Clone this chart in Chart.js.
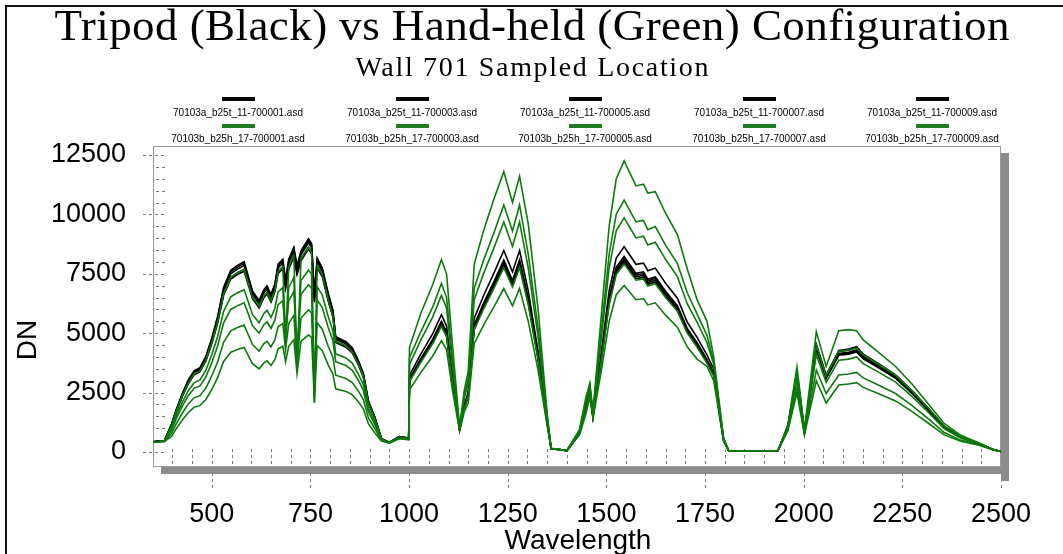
<!DOCTYPE html>
<html>
<head>
<meta charset="utf-8">
<script src="https://cdn.jsdelivr.net/npm/chart.js@4.4.1/dist/chart.umd.min.js"></script>
<style>
  html, body { margin: 0; padding: 0; background: #ffffff; }
  canvas { display: block; }
</style>
</head>
<body>
<canvas id="spectra" width="1063" height="554"></canvas>
<script>
// Wavelength samples (nm) shared by every spectrum
const wavelength = [350,380,398,410,425,440,455,470,485,500,515,530,548,565,582,590,603,620,632,640,650,660,668,680,687,695,708,716,726,745,753,760,767,780,795,807,814,840,856,872,884,897,913,930,950,975,999,
  1001,1030,1060,1082,1095,1110,1128,1140,1150,1165,1190,1215,1240,1262,1280,1302,1327,1350,1360,1400,1432,1448,1458,1466,1490,1507,1525,1545,1575,1594,1605,1624,1650,1680,1705,1730,1755,1772,1797,1810,1935,
  1960,1983,2002,2032,2057,2089,2114,2134,2151,2193,2233,2275,2317,2356,2398,2441,2480,2500];

// Tripod spectra (DN)
const tripod1 = [430,470,1150,1750,2400,2950,3350,3480,3950,4700,5600,6800,7500,7700,7850,7400,6650,6250,6700,6850,6500,6950,7750,7950,7100,7950,8450,7700,8300,8800,8600,6500,8000,7600,6550,5850,4750,4550,4300,3750,3250,2100,1450,550,400,640,580,
  3050,3900,4700,5450,5000,3000,950,1900,2400,5300,6250,7100,8000,7150,8000,6400,4000,1250,150,60,800,1800,2550,1500,4300,6400,7700,8150,7450,7500,7200,7300,6700,6100,5150,4550,3850,3300,500,50,60,
  1050,3250,850,4400,3150,4150,4200,4300,4000,3580,3160,2500,1770,1050,630,380,100,20];
const tripod2 = [440,480,1170,1790,2450,3010,3420,3550,4030,4790,5710,6940,7650,7850,8010,7550,6780,6380,6830,6990,6630,7090,7910,8110,7240,8110,8620,7850,8470,8980,8770,6630,8160,7750,6680,5970,4850,4640,4390,3830,3320,2140,1480,560,410,650,590,
  3230,4130,4980,5780,5300,3180,1000,2010,2540,5620,6630,7530,8480,7580,8480,6780,4240,1330,160,60,850,1910,2700,1590,4560,6780,8160,8640,7900,7950,7630,7740,7100,6470,5460,4820,4080,3500,530,50,60,
  1070,3320,870,4490,3210,4230,4280,4390,4080,3650,3220,2550,1810,1070,640,390,100,20];
const tripod3 = [420,460,1130,1720,2350,2890,3280,3410,3870,4610,5490,6660,7350,7550,7690,7250,6520,6130,6570,6710,6370,6810,7600,7790,6960,7790,8280,7550,8130,8620,8430,6370,7840,7450,6420,5730,4660,4460,4210,3680,3190,2060,1420,540,390,630,570,
  2990,3820,4610,5340,4900,2940,930,1860,2350,5190,6130,6960,7840,7010,7840,6270,3920,1230,150,60,780,1760,2500,1470,4210,6270,7550,7990,7300,7350,7060,7150,6570,5980,5050,4460,3770,3230,490,50,60,
  1030,3190,830,4310,3090,4070,4120,4210,3920,3510,3100,2450,1730,1030,620,370,100,20];
const tripod4 = [430,470,1160,1770,2420,2980,3380,3510,3990,4750,5660,6870,7580,7780,7930,7470,6720,6310,6770,6920,6570,7020,7830,8030,7170,8030,8530,7780,8380,8890,8690,6570,8080,7680,6620,5910,4800,4600,4340,3790,3280,2120,1460,560,400,650,590,
  3020,3860,4650,5400,4950,2970,940,1880,2380,5250,6190,7030,7920,7080,7920,6340,3960,1240,150,60,790,1780,2520,1490,4260,6340,7620,8070,7380,7430,7130,7230,6630,6040,5100,4500,3810,3270,500,50,60,
  1080,3350,880,4530,3240,4270,4330,4430,4120,3690,3250,2580,1820,1080,650,390,100,20];
const tripod5 = [420,460,1120,1700,2330,2860,3250,3380,3830,4560,5430,6600,7280,7470,7610,7180,6450,6060,6500,6640,6310,6740,7520,7710,6890,7710,8200,7470,8050,8540,8340,6310,7760,7370,6350,5670,4610,4410,4170,3640,3150,2040,1410,530,390,620,560,
  3080,3940,4750,5500,5050,3030,960,1920,2420,5350,6310,7170,8080,7220,8080,6460,4040,1260,150,60,810,1820,2580,1520,4340,6460,7780,8230,7520,7580,7270,7370,6770,6160,5200,4600,3890,3330,510,50,60,
  1040,3220,840,4360,3120,4110,4160,4260,3960,3540,3130,2480,1750,1040,620,380,100,20];

// Hand-held spectra (DN)
const handheld1 = [420,460,1130,1720,2350,2890,3280,3410,3870,4610,5490,6660,7350,7550,7690,7250,6520,6130,6570,6710,6370,6810,7600,7790,4720,7790,8280,3540,8130,8620,8430,2060,7840,7450,6420,5730,4660,4460,4210,3680,3190,2060,1420,540,390,630,570,
  4400,5850,7050,8100,7500,4500,1050,2600,3400,7900,9380,10650,11800,10500,11600,9600,6000,1600,150,60,950,2300,2900,1700,6300,9500,11500,12250,11200,11270,10900,10960,10050,9150,7700,6400,5500,4000,600,50,60,
  1150,3580,950,5060,3600,5100,5150,5100,4720,4150,3600,2850,2000,1200,700,400,110,20];
const handheld2 = [420,450,1000,1520,2090,2570,2910,3030,3440,4090,4870,5920,6530,6700,6830,6440,5790,5440,5830,5960,5660,6050,6740,6920,4500,6920,7350,3800,7220,7660,7480,2300,6960,6610,5700,5090,4130,3960,3740,3260,2830,1830,1260,520,390,600,550,
  3970,5070,6110,7090,6500,3900,1020,2400,3100,6890,8130,9230,10400,9300,10400,8320,5200,1500,150,60,900,2150,2800,1650,5590,8320,10010,10600,9690,9750,9360,9490,8710,7930,6700,5800,4900,3800,560,50,60,
  1070,3300,860,4480,3200,4240,4290,4380,4090,3660,3230,2560,1820,1080,650,390,100,20];
const handheld3 = [420,450,920,1400,1920,2360,2680,2780,3160,3760,4480,5440,6000,6160,6280,5920,5320,5000,5360,5480,5200,5560,6200,6360,4900,6360,6760,4200,6640,7040,6880,2600,6400,6080,5240,4680,3800,3640,3440,3000,2600,1680,1160,510,390,590,540,
  3690,4720,5690,6590,6050,3630,1000,2300,2900,6410,7560,8590,9680,8650,9680,7740,4840,1450,150,60,880,2050,2750,1620,5200,7740,9320,9860,9010,9080,8710,8830,8110,7380,6230,5460,4600,3700,540,50,60,
  1000,3050,800,4100,2930,3860,3910,4000,3720,3330,2940,2330,1650,980,590,360,90,20];
const handheld4 = [410,440,780,1190,1630,2010,2280,2370,2690,3200,3810,4620,5100,5240,5340,5030,4520,4250,4560,4660,4420,4730,5270,5410,4300,5410,5750,3700,5640,5980,5850,2500,5440,5170,4450,3980,3230,3090,2920,2550,2210,1430,990,490,380,580,530,
  2960,3780,4560,5290,4850,2910,920,1840,2330,5140,6060,6890,7760,6940,7760,6210,3880,1210,150,60,780,1750,2470,1460,4170,6210,7470,7910,7230,7280,6980,7080,6500,5920,5000,4410,3730,3200,480,50,60,
  950,2700,760,3450,2460,3240,3280,3350,3120,2790,2460,1950,1380,820,500,330,90,20];
const handheld5 = [410,440,650,980,1340,1650,1880,1950,2210,2630,3140,3810,4200,4310,4400,4140,3720,3500,3750,3840,3640,3890,4340,4450,3800,4450,4730,3300,4650,4930,4820,2100,4480,4260,3670,3280,2660,2550,2410,2100,1820,1180,810,460,370,560,510,
  2620,3350,4040,4690,4300,2580,880,1700,2060,4560,5380,6110,6880,6150,6880,5500,3440,1100,140,60,720,1600,2300,1400,3700,5500,6620,7010,6410,6450,6190,6280,5760,5250,4430,3910,3600,3000,450,50,60,
  900,2500,720,3000,2060,2820,2860,2920,2720,2430,2150,1700,1200,720,450,300,80,20];

// File names shown in the legend
const tripodFiles = ['70103a_b25t_11-700001.asd','70103a_b25t_11-700003.asd','70103a_b25t_11-700005.asd','70103a_b25t_11-700007.asd','70103a_b25t_11-700009.asd'];
const handheldFiles = ['70103b_b25h_17-700001.asd','70103b_b25h_17-700003.asd','70103b_b25h_17-700005.asd','70103b_b25h_17-700007.asd','70103b_b25h_17-700009.asd'];

// Axis ticks
const xTicks = [500,750,1000,1250,1500,1750,2000,2250,2500];
const yTicks = [0,2500,5000,7500,10000,12500];

const titleText = 'Tripod (Black) vs Hand-held (Green) Configuration';
const subtitleText = 'Wall 701 Sampled Location';

const BLACK = '#000000';
const GREEN = '#0b7a0b';

const tripodSeries = [tripod1, tripod2, tripod3, tripod4, tripod5];
const handheldSeries = [handheld1, handheld2, handheld3, handheld4, handheld5];

function toPoints(series) {
  return series.map((v, i) => ({ x: wavelength[i], y: v }));
}

const datasets = [];
handheldSeries.forEach((s, i) => datasets.push({
  label: handheldFiles[i], data: toPoints(s), borderColor: GREEN, borderWidth: 1.6,
  pointRadius: 0, tension: 0, fill: false, order: 0
}));
tripodSeries.forEach((s, i) => datasets.push({
  label: tripodFiles[i], data: toPoints(s), borderColor: BLACK, borderWidth: 1.6,
  pointRadius: 0, tension: 0, fill: false, order: 1
}));

const SANS = '"Liberation Sans", Arial, sans-serif';
const SERIF = '"Liberation Serif", "Times New Roman", serif';

// Draws centred text at a given size, spreading the letters to a target width
function spacedText(ctx, text, size, family, cx, baseline, targetWidth) {
  ctx.font = size + 'px ' + family;
  ctx.letterSpacing = '0px';
  const natural = ctx.measureText(text).width;
  const gap = Math.max(0, (targetWidth - natural) / (text.length - 1));
  ctx.letterSpacing = gap + 'px';
  ctx.textAlign = 'left';
  ctx.fillText(text, cx - targetWidth / 2, baseline);
  ctx.letterSpacing = '0px';
  ctx.textAlign = 'center';
}

const decorations = {
  id: 'decorations',
  beforeDraw(chart) {
    const { ctx, width, height } = chart;
    ctx.save();
    ctx.fillStyle = '#ffffff';
    ctx.fillRect(0, 0, width, height);
    ctx.restore();
  },
  beforeDatasetsDraw(chart) {
    const { ctx, chartArea: a, scales: { x, y } } = chart;
    ctx.save();
    ctx.strokeStyle = '#7a7a7a';
    ctx.lineWidth = 1;
    ctx.setLineDash([3, 3]);
    // x tick marks every 50 nm, longer dashed marks at labelled values
    for (let w = 400; w <= 2500; w += 50) {
      const px = Math.round(x.getPixelForValue(w)) + 0.5;
      const major = xTicks.includes(w);
      ctx.beginPath();
      ctx.moveTo(px, a.bottom - 17);
      ctx.lineTo(px, major ? a.bottom + 22 : a.bottom);
      ctx.stroke();
    }
    // y tick marks every 500 DN
    for (let v = 0; v <= 12500; v += 500) {
      const py = Math.round(y.getPixelForValue(v)) + 0.5;
      const major = yTicks.includes(v);
      ctx.beginPath();
      ctx.moveTo(major ? a.left - 10 : a.left + 3, py);
      ctx.lineTo(a.left + 13, py);
      ctx.stroke();
    }
    ctx.setLineDash([]);
    // drop shadow of the plot box
    ctx.fillStyle = '#8c8c8c';
    ctx.fillRect(a.right, a.top + 7, 8, a.bottom - a.top + 8);
    ctx.fillRect(a.left + 8, a.bottom, a.right - a.left, 8);
    // plot box
    ctx.strokeStyle = '#9a9a9a';
    ctx.lineWidth = 1;
    ctx.strokeRect(a.left + 0.5, a.top + 0.5, a.right - a.left - 1, a.bottom - a.top);
    ctx.restore();
  },
  afterDraw(chart) {
    const { ctx, width, height, chartArea: a } = chart;
    ctx.save();
    // outer frame
    ctx.strokeStyle = '#111111';
    ctx.lineWidth = 2;
    ctx.strokeRect(6, 6, width + 20, height + 20);

    ctx.fillStyle = '#000000';
    ctx.textBaseline = 'alphabetic';
    // title and subtitle
    spacedText(ctx, titleText, 45, SERIF, 532, 40, 955);
    spacedText(ctx, subtitleText, 28, SERIF, 532, 76, 353);

    // legend: five columns, tripod entry above hand-held entry
    const cols = [238, 412, 585, 759, 932];
    ctx.font = '10px ' + SANS;
    ctx.textAlign = 'center';
    ctx.textBaseline = 'middle';
    cols.forEach((cx, i) => {
      ctx.fillStyle = BLACK;
      ctx.fillRect(cx - 16, 97, 33, 4);
      ctx.fillStyle = '#000000';
      ctx.fillText(tripodFiles[i], cx, 113);
      ctx.fillStyle = '#1e7d1e';
      ctx.fillRect(cx - 16, 124, 33, 4);
      ctx.fillStyle = '#000000';
      ctx.fillText(handheldFiles[i], cx, 139);
    });

    // axis titles
    ctx.font = '28px ' + SANS;
    ctx.textBaseline = 'middle';
    ctx.fillText('Wavelength', (a.left + a.right) / 2 + 1, 541);
    ctx.translate(28, 340);
    ctx.rotate(-Math.PI / 2);
    ctx.fillText('DN', 0, 0);
    ctx.restore();
  }
};

new Chart(document.getElementById('spectra'), {
  type: 'line',
  data: { datasets },
  options: {
    responsive: false,
    animation: false,
    events: [],
    layout: { padding: { top: 146, right: 43, left: 0, bottom: 0 } },
    plugins: { legend: { display: false }, title: { display: false }, tooltip: { enabled: false } },
    scales: {
      x: {
        type: 'linear', min: 351, max: 2500,
        afterBuildTicks: s => { s.ticks = xTicks.map(v => ({ value: v })); },
        afterFit: s => { s.height = 88; },
        grid: { display: false, drawTicks: false },
        border: { display: false },
        ticks: { font: { family: SANS, size: 27 }, color: '#000000', padding: 32, maxRotation: 0, autoSkip: false, callback: v => String(v) }
      },
      y: {
        type: 'linear', min: -590, max: 12880,
        afterBuildTicks: s => { s.ticks = yTicks.map(v => ({ value: v })); },
        afterFit: s => { s.width = 153; },
        grid: { display: false, drawTicks: false },
        border: { display: false },
        ticks: { font: { family: SANS, size: 27 }, color: '#000000', padding: 27, autoSkip: false, callback: v => String(v) }
      }
    }
  },
  plugins: [decorations]
});
</script>
</body>
</html>
